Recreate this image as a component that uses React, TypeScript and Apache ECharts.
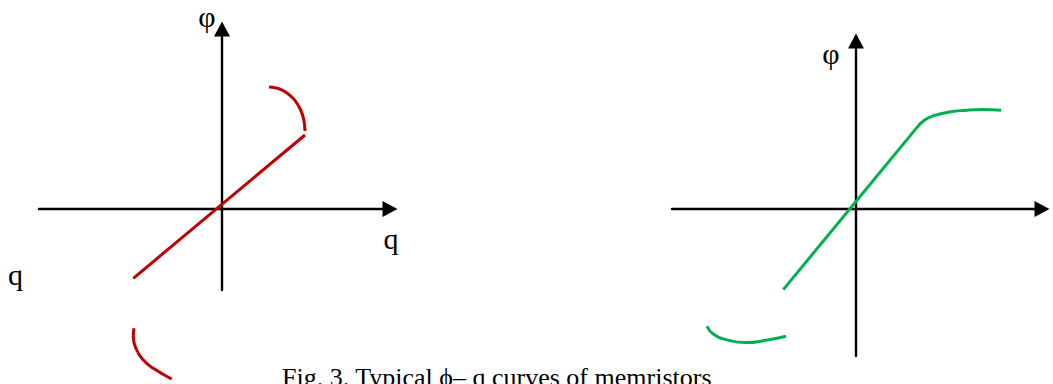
import React, { useEffect, useRef } from "react";
import * as echarts from "echarts";

// Left panel: axis extents (q horizontal, φ vertical)
const leftQRange = [-18.3, 16.8];
const leftPhiRange = [-8.1, 18.0];
// Right panel: axis extents
const rightQRange = [-18.4, 18.6];
const rightPhiRange = [-14.7, 16.8];

// Red memristor curve pieces (q, φ)
const redLinear: [number, number][] = [
  [-8.87, -6.93],
  [8.3, 7.4],
];
const redUpperArc: [number, number][] = [
  [4.7, 12.2],
  [5.63, 12.05],
  [6.5, 11.61],
  [7.25, 10.91],
  [7.82, 10.0],
  [8.18, 8.94],
  [8.3, 7.8],
];
const redLowerArc: [number, number][] = [
  [-8.8, -11.93],
  [-8.87, -12.77],
  [-8.53, -14.1],
  [-7.87, -15.1],
  [-6.87, -15.93],
  [-5.03, -17.0],
];

// Green memristor curve pieces (q, φ)
const greenLinear: [number, number][] = [
  [-7.27, -8.06],
  [6.0, 8.04],
];
const greenShoulder: [number, number][] = [
  [6.0, 8.04],
  [6.83, 8.87],
  [7.66, 9.3],
  [9.33, 9.7],
  [11.0, 9.87],
  [12.66, 9.94],
  [14.5, 9.87],
];
const greenLowerArc: [number, number][] = [
  [-14.9, -11.73],
  [-14.34, -12.46],
  [-13.0, -13.06],
  [-11.0, -13.36],
  [-9.0, -13.13],
  [-7.0, -12.73],
];

const axisLabels = { phi: "φ", q: "q" };
const caption = "Fig. 3. Typical ϕ– q curves of memristors";

const RED = "#C00000";
const GREEN = "#00B050";
const SERIF = "'Liberation Serif', 'Times New Roman', serif";

function valueAxis(range: number[], gridIndex: number) {
  return {
    type: "value" as const,
    gridIndex,
    min: range[0],
    max: range[1],
    axisLine: {
      show: true,
      onZero: true,
      symbol: ["none", "triangle"],
      symbolSize: [16, 15],
      lineStyle: { color: "#000", width: 2.4 },
    },
    axisTick: { show: false },
    axisLabel: { show: false },
    splitLine: { show: false },
  };
}

function curve(
  data: [number, number][],
  color: string,
  axisIndex: number,
  smooth: boolean | number
) {
  return {
    type: "line" as const,
    xAxisIndex: axisIndex,
    yAxisIndex: axisIndex,
    data,
    smooth,
    symbol: "none",
    showSymbol: false,
    clip: false,
    silent: true,
    lineStyle: { color, width: 3, cap: "butt" },
  };
}

function label(text: string, x: number, y: number, size: number, align = "center") {
  return {
    type: "text" as const,
    silent: true,
    style: {
      text,
      x,
      y,
      font: `${size}px ${SERIF}`,
      fill: "#000",
      textAlign: align,
      align,
      textVerticalAlign: "middle",
      verticalAlign: "middle",
    },
  };
}

export default function App() {
  const ref = useRef<HTMLDivElement>(null);

  useEffect(() => {
    if (!ref.current) return;
    const chart = echarts.init(ref.current, undefined, { renderer: "svg" });
    chart.setOption({
      animation: false,
      backgroundColor: "#fff",
      grid: [
        { left: 39, top: 29, width: 351, height: 261 },
        { left: 672, top: 41, width: 370, height: 315 },
      ],
      xAxis: [valueAxis(leftQRange, 0), valueAxis(rightQRange, 1)],
      yAxis: [valueAxis(leftPhiRange, 0), valueAxis(rightPhiRange, 1)],
      series: [
        curve(redLinear, RED, 0, false),
        curve(redUpperArc, RED, 0, 0.3),
        curve(redLowerArc, RED, 0, 0.5),
        curve(greenLinear, GREEN, 1, false),
        curve(greenShoulder, GREEN, 1, 0.5),
        curve(greenLowerArc, GREEN, 1, 0.5),
      ],
      graphic: [
        label(axisLabels.phi, 207, 16.5, 30),
        label(axisLabels.q, 391, 238, 30),
        label(axisLabels.q, 15.5, 274, 30),
        label(axisLabels.phi, 831, 53.5, 30),
        label(caption, 282, 377, 26, "left"),
      ],
    });
    return () => chart.dispose();
  }, []);

  return (
    <div
      ref={ref}
      style={{ position: "absolute", left: 0, top: 0, width: 1053, height: 384 }}
    />
  );
}
